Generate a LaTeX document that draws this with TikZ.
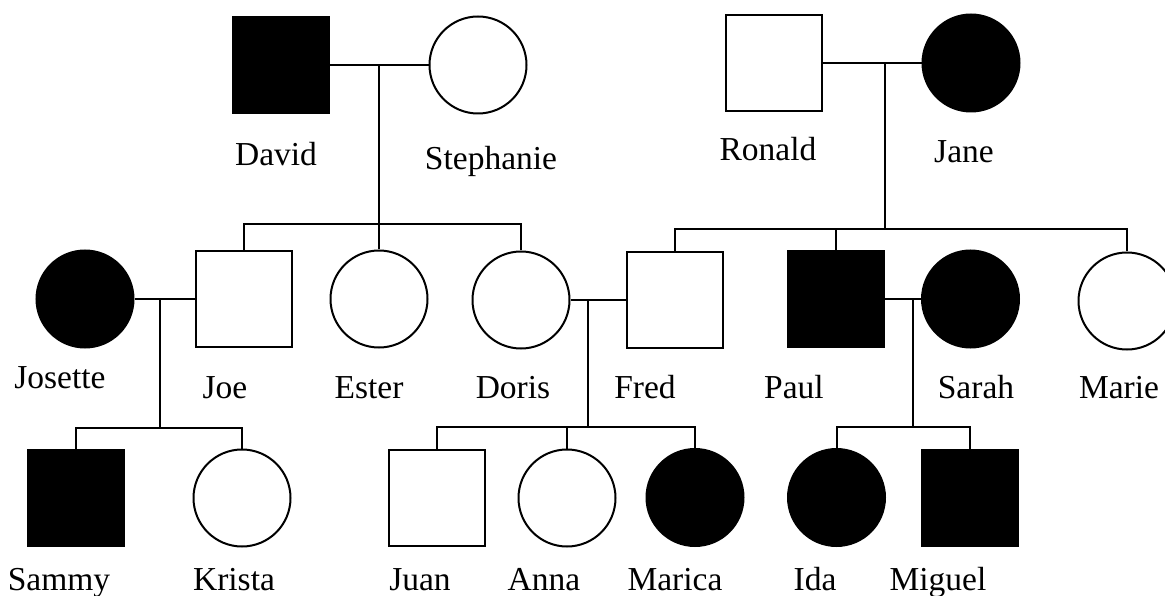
\documentclass[tikz,border=0pt]{standalone}
\usepackage{fontspec}
\setmainfont{Liberation Serif}
\begin{document}
\begin{tikzpicture}[x=1pt,y=-1pt,line width=2pt,
  personbox/.style={draw=black,line width=2pt,inner sep=0pt,minimum size=96pt},
  malebox/.style={personbox,rectangle},
  femalebox/.style={personbox,circle,minimum size=97pt},
  affected/.style={fill=black},
  healthy/.style={fill=white},
  pname/.style={anchor=base,inner sep=0pt,font=\fontsize{33.5}{40}\selectfont},
  link/.style={draw=black,line width=2pt}]
\useasboundingbox (0,0) rectangle (1165,596);

% first generation
\node[malebox,affected]   (David)     at (280.5,65) {};
\node[femalebox,healthy]  (Stephanie) at (478,65) {};
\node[malebox,healthy]    (Ronald)    at (774,63) {};
\node[femalebox,affected] (Jane)      at (971,63) {};

% second generation
\node[femalebox,affected] (Josette) at (85,299) {};
\node[malebox,healthy]    (Joe)     at (243.5,299) {};
\node[femalebox,healthy]  (Ester)   at (379,299) {};
\node[femalebox,healthy]  (Doris)   at (521,300) {};
\node[malebox,healthy]    (Fred)    at (674.5,300) {};
\node[malebox,affected]   (Paul)    at (835.5,299) {};
\node[femalebox,affected] (Sarah)   at (970.5,299) {};
\node[femalebox,healthy]  (Marie)   at (1127,301) {};

% third generation
\node[malebox,affected]   (Sammy)  at (75.5,498) {};
\node[femalebox,healthy]  (Krista) at (242,498) {};
\node[malebox,healthy]    (Juan)   at (437,498) {};
\node[femalebox,healthy]  (Anna)   at (567,498) {};
\node[femalebox,affected] (Marica) at (695,497.5) {};
\node[femalebox,affected] (Ida)    at (836.5,497.5) {};
\node[malebox,affected]   (Miguel) at (970,497.5) {};

% names
\node[pname] (nDavid)     at (276,166) {David};
\node[pname] (nStephanie) at (491,170) {Stephanie};
\node[pname] (nRonald)    at (768,161) {Ronald};
\node[pname] (nJane)      at (964,163) {Jane};
\node[pname] (nJosette)   at (60,388)  {Josette};
\node[pname] (nJoe)       at (225,398) {Joe};
\node[pname] (nEster)     at (369,398) {Ester};
\node[pname] (nDoris)     at (513,398) {Doris};
\node[pname] (nFred)      at (645,398) {Fred};
\node[pname] (nPaul)      at (794,398) {Paul};
\node[pname] (nSarah)     at (976,398) {Sarah};
\node[pname] (nMarie)     at (1119,398) {Marie};
\node[pname] (nSammy)     at (59,590)  {Sammy};
\node[pname] (nKrista)    at (234,590) {Krista};
\node[pname] (nJuan)      at (420,590) {Juan};
\node[pname] (nAnna)      at (544,590) {Anna};
\node[pname] (nMarica)    at (675,590) {Marica};
\node[pname] (nIda)       at (815,590) {Ida};
\node[pname] (nMiguel)    at (938,590) {Miguel};

% marriage points and sibship bars
\coordinate (m1) at (379,65);
\coordinate (s1) at (379,224);
\coordinate (m2) at (885,63);
\coordinate (s2) at (885,229);
\coordinate (m3) at (160,299);
\coordinate (s3) at (160,428);
\coordinate (m4) at (588,300);
\coordinate (s4) at (588,427);
\coordinate (m5) at (913,299);
\coordinate (s5) at (913,427);

% David x Stephanie
\draw[link] (David.east) -- (Stephanie.west);
\draw[link] (m1) -- (s1) -- (Ester.north);
\draw[link] (Joe.north) |- (s1) -| (Doris.north);

% Ronald x Jane
\draw[link] (Ronald.east) -- (Jane.west);
\draw[link] (m2) -- (s2);
\draw[link] (Fred.north) |- (s2) -| (Marie.north);
\draw[link] (Paul.north) |- (s2);

% Josette x Joe
\draw[link] (Josette.east) -- (Joe.west);
\draw[link] (m3) -- (s3);
\draw[link] (Sammy.north) |- (s3) -| (Krista.north);

% Doris x Fred
\draw[link] (Doris.east) -- (Fred.west);
\draw[link] (m4) -- (s4);
\draw[link] (Juan.north) |- (s4) -| (Marica.north);
\draw[link] (Anna.north) |- (s4);

% Paul x Sarah
\draw[link] (Paul.east) -- (Sarah.west);
\draw[link] (m5) -- (s5);
\draw[link] (Ida.north) |- (s5) -| (Miguel.north);
\end{tikzpicture}
\end{document}
